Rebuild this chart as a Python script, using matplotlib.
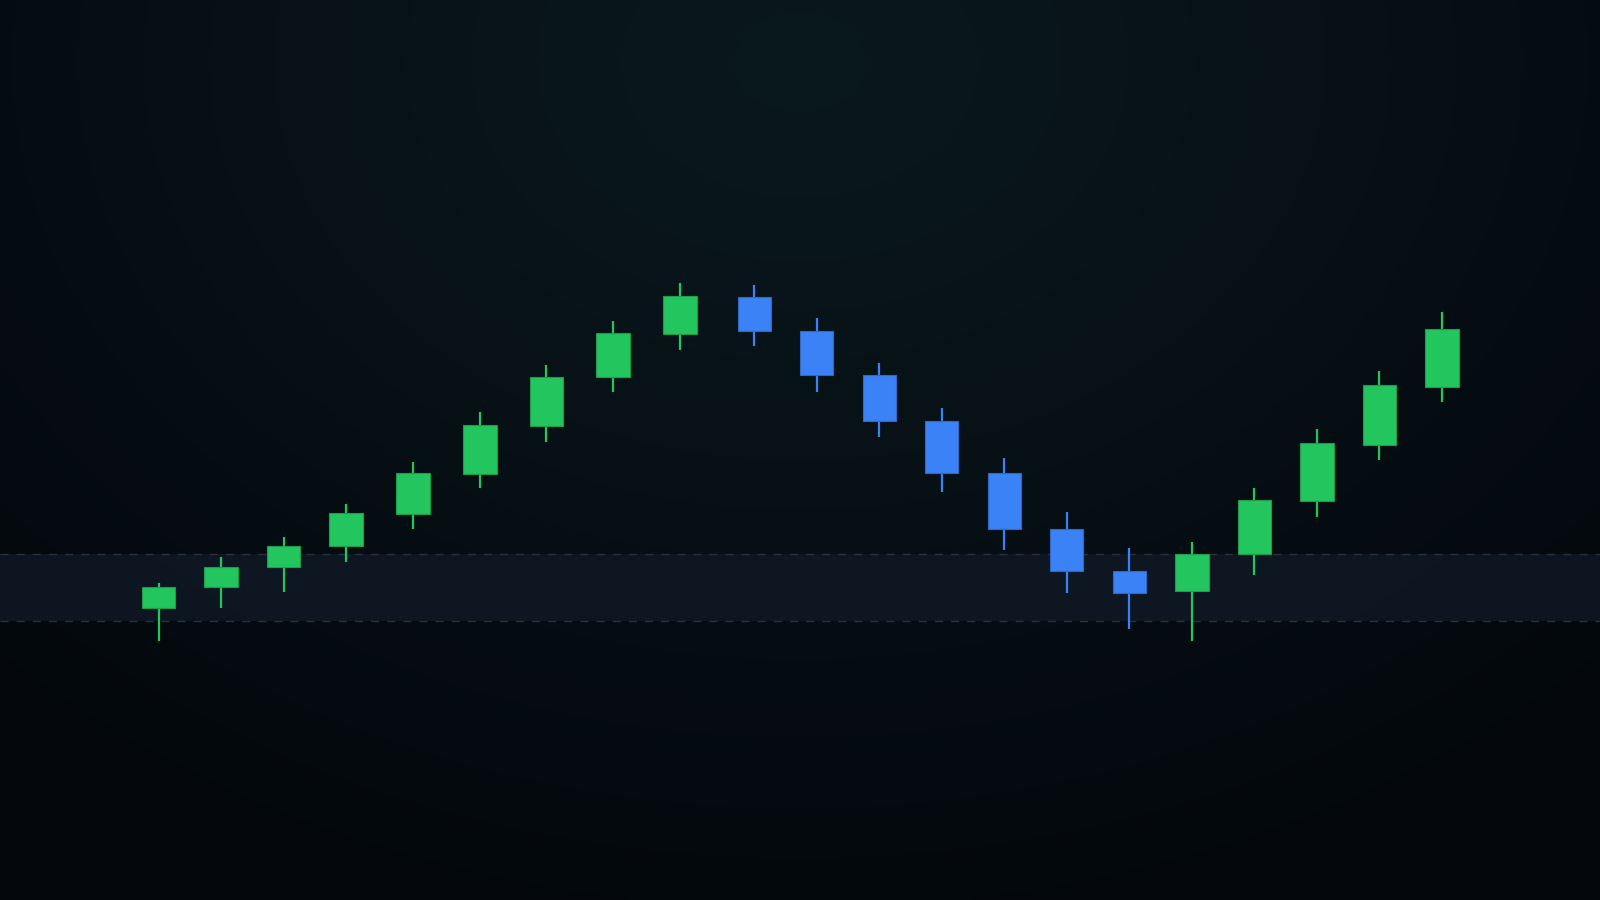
import numpy as np
import matplotlib
matplotlib.use("Agg")
import matplotlib.pyplot as plt
from matplotlib.patches import Rectangle

# ---- data ----
x_pos = [0.0, 1.0, 2.0, 3.0, 4.07, 5.14, 6.2, 7.27, 8.34,
         9.53, 10.53, 11.53, 12.53, 13.53, 14.53, 15.53, 16.53, 17.53, 18.53, 19.53, 20.53]
opens = [101.9, 105.0, 108.05, 111.2, 116.0, 122.0, 129.2, 136.5, 143.0,
         148.5, 143.4, 136.8, 129.9, 122.1, 113.75, 107.45, 104.4, 110.0, 117.9, 126.3, 135.0]
closes = [105.0, 108.1, 111.25, 116.1, 122.1, 129.35, 136.6, 143.1, 148.7,
          143.4, 136.85, 130.0, 122.1, 113.75, 107.5, 104.1, 110.0, 118.1, 126.6, 135.35, 143.75]
highs = [105.6, 109.6, 112.5, 117.5, 123.75, 131.25, 138.35, 144.95, 150.6,
         150.35, 145.35, 138.7, 131.85, 124.35, 116.25, 110.85, 111.85, 119.95, 128.7, 137.45, 146.25]
lows = [96.95, 101.85, 104.35, 108.75, 113.75, 119.85, 126.85, 134.35, 140.6,
        141.25, 134.35, 127.5, 119.35, 110.6, 104.1, 98.75, 96.9, 106.85, 115.6, 124.1, 132.85]
zone_low, zone_high = 100.0, 110.0

UP = "#22c55e"
UP_EDGE = "#1b9d4b"
DOWN = "#3b82f6"
DOWN_EDGE = "#2f68c8"

fig = plt.figure(figsize=(16, 9), dpi=100)
ax = fig.add_axes([0, 0, 1, 1])
xlim = (-2.538, 23.06)
ylim = (58.13, 193.06)
ax.set_xlim(*xlim)
ax.set_ylim(*ylim)
ax.axis("off")

# background gradient (soft radial glow at top centre, darker towards bottom)
W, H = 400, 225
gx, gy = np.meshgrid(np.linspace(0, 1600, W), np.linspace(0, 900, H))
d = np.sqrt(((gx - 800) / 1250) ** 2 + ((gy - 60) / 950) ** 2)
t = np.clip(d, 0, 1)[..., None]
c0 = np.array([10, 25, 30]) / 255.0
c1 = np.array([3, 6, 11]) / 255.0
img = c0 * (1 - t) + c1 * t
ax.imshow(img, extent=(xlim[0], xlim[1], ylim[0], ylim[1]), origin="upper",
          aspect="auto", zorder=0, interpolation="bilinear")

# zone band
ax.axhspan(zone_low, zone_high, color="#0e1722", alpha=0.95, zorder=1, lw=0)
for yv in (zone_low, zone_high):
    ax.axhline(yv, color="#28313d", lw=1.0, dashes=(5.8, 5.8), zorder=2)

bw = 0.533
for x, o, c, h, l in zip(x_pos, opens, closes, highs, lows):
    up = c >= o
    col = UP if up else DOWN
    ecol = UP_EDGE if up else DOWN_EDGE
    ax.vlines(x, l, h, color=col, lw=1.6, zorder=3)
    ax.add_patch(Rectangle((x - bw / 2, min(o, c)), bw, abs(c - o),
                           facecolor=col, edgecolor=ecol, lw=0.8, zorder=4))

fig.savefig("out.png", dpi=100, facecolor="#03060b")
